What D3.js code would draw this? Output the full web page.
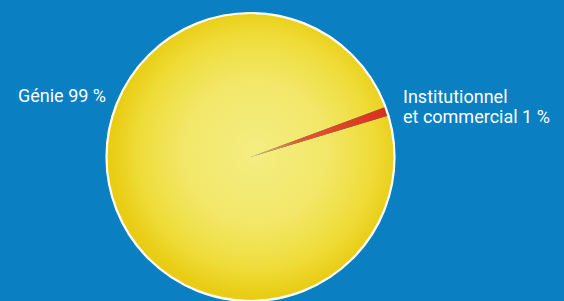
<!DOCTYPE html>
<html>
<head>
<meta charset="utf-8">
<script src="https://cdn.jsdelivr.net/npm/d3@7"></script>
<style>
  html, body { margin: 0; padding: 0; background: #0a7fc1; }
  svg { display: block; }
  text { font-family: Roboto, "Open Sans", sans-serif; fill: #fff; }
</style>
</head>
<body>
<div id="chart"></div>
<script>
// data
const categories = ['Génie', 'Institutionnel et commercial'];
const values = [99, 1];
const labelLines = [['Génie 99 %'], ['Institutionnel', 'et commercial 1 %']];

const W = 564, H = 301;
const cx = 250.5, cy = 157, r = 144;

const svg = d3.select('#chart').append('svg')
  .attr('width', W)
  .attr('height', H);

const defs = svg.append('defs');

// yellow radial gradient (user space of the pie group)
const yg = defs.append('radialGradient')
  .attr('id', 'yellowGrad')
  .attr('gradientUnits', 'userSpaceOnUse')
  .attr('cx', 5).attr('cy', -5).attr('r', r);
yg.append('stop').attr('offset', '0%').attr('stop-color', '#f4ee82');
yg.append('stop').attr('offset', '50%').attr('stop-color', '#f2e768');
yg.append('stop').attr('offset', '82%').attr('stop-color', '#efdc38');
yg.append('stop').attr('offset', '100%').attr('stop-color', '#e9cd14');

// red gradient, fading into yellow at the centre
const rg = defs.append('radialGradient')
  .attr('id', 'redGrad')
  .attr('gradientUnits', 'userSpaceOnUse')
  .attr('cx', 0).attr('cy', 0).attr('r', r);
rg.append('stop').attr('offset', '0%').attr('stop-color', '#f3ea78');
rg.append('stop').attr('offset', '8%').attr('stop-color', '#f0b050');
rg.append('stop').attr('offset', '35%').attr('stop-color', '#e5582a');
rg.append('stop').attr('offset', '100%').attr('stop-color', '#d8301e');

const start = 73.3 * Math.PI / 180;
const pie = d3.pie().sort(null)
  .startAngle(start)
  .endAngle(start + 2 * Math.PI);

const arc = d3.arc().innerRadius(0).outerRadius(r);

const g = svg.append('g')
  .attr('transform', 'translate(' + cx + ',' + cy + ')');

g.selectAll('path.slice')
  .data(pie(values))
  .enter()
  .append('path')
  .attr('class', 'slice')
  .attr('d', arc)
  .attr('fill', (d, i) => i === 0 ? 'url(#yellowGrad)' : 'url(#redGrad)');

// white outline
g.append('circle')
  .attr('r', r)
  .attr('fill', 'none')
  .attr('stroke', '#fff')
  .attr('stroke-width', 2.2);

// labels
const labelPos = [
  { x: 18, y: 102 },
  { x: 403, y: 103 }
];

labelLines.forEach((lines, i) => {
  const t = svg.append('text')
    .attr('x', labelPos[i].x)
    .attr('y', labelPos[i].y)
    .attr('font-size', 18);
  lines.forEach((l, j) => {
    t.append('tspan')
      .attr('x', labelPos[i].x)
      .attr('dy', j === 0 ? 0 : 20)
      .text(l);
  });
});
</script>
</body>
</html>
